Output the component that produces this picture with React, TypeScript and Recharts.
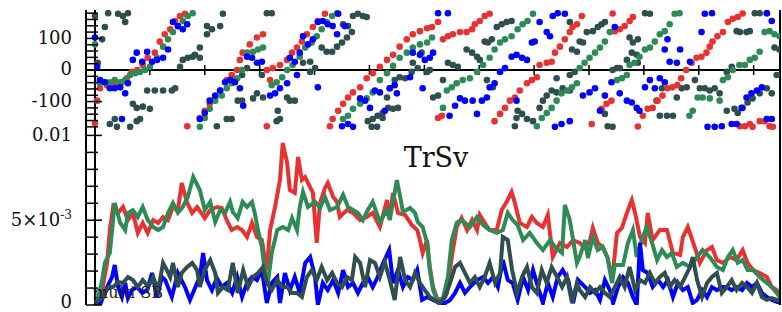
import React from "react";
import {
  ScatterChart,
  Scatter,
  LineChart,
  Line,
  XAxis,
  YAxis,
  ReferenceLine,
} from "recharts";

const RED = "#e83232";
const GREEN = "#2e8b57";
const BLUE = "#0000ff";
const SLATE = "#2f4f4f";
const SERIF = '"DejaVu Serif", serif';

// x ticks (no labels visible in the crop)
const xTicks = [0, 10, 20, 30, 40, 50, 60, 70, 80, 90, 100, 110, 120];
const phaseTicks = [-180, -160, -140, -120, -100, -80, -60, -40, -20, 0, 20, 40, 60, 80, 100, 120, 140, 160, 180];
const phaseLabels: Record<string, string> = { "100": "100", "0": "0", "-100": "-100" };
// amplitude in units of 1e-3
const ampTicks = [0, 1, 2, 3, 4, 5, 6, 7, 8, 9, 10];

type P = [number, number];

// ---- phase scatter (degrees) ----
const redPhase: P[] = [
  [0, -168], [0.4, -97], [0.9, -58], [2.2, -48], [3.6, -48], [4.9, -39], [5.8, -26], [6.7, -6], [7.7, 0], [8.7, 16],
  [9.6, 39], [10.9, 55], [11.8, 90], [12.7, 113], [13.7, 129], [14.6, 155], [15.5, 171], [16.4, 178], [16.8, -178],
  [19.1, -152], [20.0, -129], [20.9, -107], [21.9, -87], [22.8, -65], [24.0, -32], [24.9, -16], [25.9, 0], [26.4, 32],
  [26.9, 55], [28.2, 81], [29.5, 103], [30.6, 113], [31.3, -178], [31.3, 0], [31.9, -32], [32.4, 6], [33.7, 16],
  [35.0, 32], [35.9, 55], [36.8, 71], [37.7, 90], [38.6, 113], [39.7, 136], [40.6, 155], [41.9, 178], [42.8, -178],
  [43.3, -155], [44.3, -129], [45.2, -107], [46.1, -87], [47.0, -71], [48.3, -55], [49.5, -26], [50.6, -10], [51.9, 10],
  [53.2, 32], [54.3, 48], [55.5, 74], [56.8, 97], [57.9, 113], [59.2, 123], [60.5, 132], [61.4, 136], [62.5, 152],
  [63.4, 97], [64.3, 107], [65.2, 113], [66.5, 120], [67.7, 120], [68.7, 129], [69.2, 145], [70.1, 155], [71.0, 171],
  [71.9, 178], [62.5, -152], [63.2, -145], [72.8, -162], [73.8, -139], [74.7, -120], [75.6, -97], [76.5, -87],
  [77.4, -65], [78.7, -42], [79.6, -32], [80.5, -23], [81.0, 16], [82.3, 23], [83.2, 26], [83.8, 55], [84.7, 74],
  [85.6, 97], [86.5, 120], [87.0, 136], [87.8, 145], [88.7, 171], [90.5, -171], [92.3, -123], [93.2, -107], [94.1, -97],
  [94.3, 179], [94.7, 123], [95.6, 129], [96.5, 139], [97.4, 155], [98.0, 168], [98.9, -179], [99.8, -145], [100.7, -123],
  [101.6, -120], [102.5, -97], [103.4, -81], [104.3, -58], [105.2, -55], [106.1, -48], [106.8, -26], [107.7, 0],
  [108.7, 23], [109.6, 39], [110.5, 42], [111.4, 55], [112.0, 74], [112.5, 90], [113.4, 107], [114.4, 120], [115.3, 152],
  [116.2, 162], [117.1, 168], [118.0, 179], [117.5, -178], [118.4, -178], [119.3, -171], [119.8, -180], [121.1, -162],
  [122.0, -162], [122.9, -178], [123.5, -180],
];

const greenPhase: P[] = [
  [0, 81], [0.9, -42], [1.8, -39], [2.7, -39], [3.6, -32], [4.6, -39], [5.5, -32], [6.4, -16], [7.3, -10], [8.2, -6],
  [9.1, 0], [10.0, 10], [11.3, 39], [12.4, 74], [13.3, 97], [14.2, 120], [15.1, 139], [16.0, 155], [16.9, 171], [17.8, 180],
  [19.1, -180], [20.0, -152], [20.9, -123], [21.9, -97], [23.1, -81], [24.0, -58], [24.9, -42], [25.9, -26], [26.8, 0],
  [27.7, 55], [28.8, 58], [29.7, 65], [30.6, 71], [32.2, -48], [33.1, -39], [34.1, -23], [35.0, 0], [36.0, 16], [37.3, 42],
  [38.3, 71], [39.5, 87], [40.4, 107], [41.3, 129], [42.2, 152], [43.2, 171], [44.1, 180], [45.2, -155], [46.1, -145],
  [47.0, -123], [48.3, -107], [49.5, -90], [50.6, -71], [51.9, -32], [53.2, -10], [54.3, 13], [55.5, 39], [56.8, 55],
  [57.9, 71], [59.2, 81], [60.5, 87], [61.4, 103], [63.4, -120], [64.1, -65], [65.0, -55], [65.9, -42], [67.0, -32],
  [68.3, -26], [69.6, -6], [70.7, 16], [71.9, 39], [72.8, 65], [73.8, 87], [74.7, 97], [75.9, 107], [77.0, 129], [77.9, 145],
  [78.8, 155], [79.8, 178], [80.5, -178], [81.4, -152], [82.3, -136], [83.2, -120], [84.1, -97], [85.0, -74], [86.0, -65],
  [86.9, -55], [87.8, -42], [88.3, 6], [89.2, 23], [90.1, 39], [91.1, 55], [92.0, 71], [92.9, 90], [93.8, 120],
  [95.1, -32], [96.0, -26], [96.9, -16], [97.4, 16], [98.3, 23], [99.2, 42], [100.2, 65], [101.1, 71], [102.0, 90],
  [102.9, 113], [103.8, 123], [104.7, 145], [105.6, 178], [106.5, 180], [108.3, -145], [108.9, -129], [109.8, -87],
  [110.7, -87], [112.0, -90], [113.8, -97], [114.4, -32], [115.3, -23], [116.2, 0], [117.4, 16], [118.4, 16], [119.3, 32],
  [120.2, 39], [121.1, 58], [122.0, 120], [122.9, 123], [123.8, 113], [124.7, 107],
];

const bluePhase: P[] = [
  [0, 103], [0.4, 10], [0.9, -32], [1.8, -39], [2.7, -58], [3.6, -58], [4.6, -55], [4.9, -155], [5.5, -74], [6.0, -42],
  [6.9, 32], [7.6, 55], [8.6, 26], [9.5, 58], [10.4, 26], [11.3, 32], [12.4, 39], [13.3, 65], [14.2, 152], [15.1, 139],
  [16.0, 129], [16.8, 145], [19.1, -155], [20.0, -136], [20.9, -97], [21.9, -81], [22.8, -65], [23.7, -39], [24.6, -32],
  [25.5, -39], [26.4, -58], [27.0, -113], [27.7, 42], [28.6, 39], [29.5, 23], [30.4, 26], [31.9, -81], [32.8, -74],
  [33.7, -58], [35.0, -42], [35.5, 39], [36.4, 26], [36.8, -16], [37.3, 55], [37.9, 107], [38.8, 81], [39.7, 97],
  [40.6, 152], [40.6, -55], [41.5, 155], [42.4, 145], [43.3, 139], [44.1, 113], [44.3, 178], [45.5, 139], [45.0, -178],
  [46.1, -171], [47.0, -180], [48.3, -90], [49.2, -97], [50.1, -120], [51.0, -65], [51.9, -71], [52.8, -129], [53.7, -58],
  [54.6, -48], [55.0, -74], [57.4, -23], [57.9, 55], [59.2, 48], [59.7, -58], [60.1, 32], [61.0, 39], [61.6, 55],
  [62.5, 180], [64.3, 180], [64.6, -145], [65.6, -113], [66.5, -90], [67.4, -97], [68.8, -97], [69.6, -139], [70.5, -97],
  [71.4, -87], [71.9, -55], [72.8, -42], [73.8, -6], [74.7, 6], [75.9, 42], [76.8, 48], [76.8, -97], [77.8, 39], [78.7, 32],
  [79.6, 87], [80.1, 90], [81.0, 152], [82.3, 120], [82.9, 107], [83.4, 171], [84.3, 180], [85.6, 178], [83.8, -180],
  [85.0, -171], [86.5, -162], [88.9, -81], [90.1, -71], [91.1, -58], [92.0, -129], [92.9, -81], [94.1, -39], [94.7, 136],
  [95.6, -74], [96.9, -97], [97.8, -103], [98.7, -120], [99.2, -129], [100.2, -55], [101.1, -32], [102.0, -58],
  [102.9, -26], [103.8, -39], [103.8, 65], [104.3, 97], [104.7, 26], [106.0, 23], [106.6, 65], [108.4, 26], [110.5, 120],
  [111.1, 178], [112.4, 180], [111.6, -180], [112.9, -180], [114.2, -178], [116.0, -171], [116.9, -171], [117.8, -120],
  [118.7, -87], [119.6, -74], [120.6, -65], [121.5, -55], [122.4, -155], [123.3, -155], [122.4, 180], [123.3, 155],
];

const slatePhase: P[] = [
  [0, 171], [0.5, 23], [1.3, 97], [1.8, 136], [2.4, 180], [4.2, 178], [5.1, 171], [5.5, 152], [6.0, 180], [0.9, -39],
  [2.7, -171], [3.6, -155], [4.0, -180], [6.4, -180], [6.9, -107], [7.6, -120], [7.6, -162], [8.2, -155], [8.7, -116],
  [9.5, -65], [10.0, -123], [10.9, -65], [12.4, -65], [14.0, -65], [14.6, -58], [15.5, 10], [16.0, 32], [16.9, 39],
  [17.8, 42], [18.2, 48], [19.1, 71], [19.1, 39], [20.4, 113], [20.4, 139], [21.3, 129], [22.8, 139], [23.3, 178],
  [22.2, -178], [24.0, -155], [24.9, -155], [25.5, -32], [26.0, -97], [26.8, -97], [26.8, -16], [27.7, 6], [28.8, -90],
  [29.5, -74], [30.4, -16], [30.6, -87], [31.3, 180], [32.2, 180], [33.1, -162], [33.3, -129], [33.7, -155], [35.0, -87],
  [35.5, -97], [36.4, -97], [37.9, 23], [39.2, 26], [39.2, -6], [40.1, 6], [41.3, 71], [42.2, 58], [43.2, 58], [44.1, 74],
  [45.0, 87], [45.2, 145], [45.9, 103], [46.1, 139], [46.8, 120], [47.0, 171], [47.9, 178], [48.8, 171], [49.5, 168],
  [49.7, -162], [50.4, -180], [50.6, -155], [51.4, -180], [51.5, -145], [52.4, -136], [52.4, -152], [53.2, -87],
  [53.4, -120], [53.7, -58], [54.3, -123], [54.6, -32], [55.2, -120], [55.5, -23], [56.5, -26], [57.7, -6], [57.9, 23],
  [58.8, 6], [59.5, 55], [60.5, -6], [61.0, 0], [61.6, -87], [62.5, -81], [63.4, -32], [64.3, 23], [65.2, 16], [66.1, 10],
  [67.7, 65], [68.7, 55], [69.6, 42], [70.1, 32], [71.0, 90], [71.6, 87], [71.4, -32], [72.3, 97], [72.5, -55], [73.2, 136],
  [74.1, 145], [75.0, 152], [75.9, 155], [76.5, -178], [76.8, -152], [77.0, -129], [77.8, -139], [78.7, -155],
  [79.8, -162], [81.0, -120], [81.6, -97], [82.3, -81], [83.2, -65], [84.1, -71], [84.1, -26], [85.2, -58], [86.5, -65],
  [86.5, -16], [87.4, -6], [86.9, 65], [87.8, 58], [86.5, 152], [88.3, 90], [88.9, 87], [89.6, 120], [90.7, 123],
  [91.6, 136], [92.3, 145], [92.9, 152], [92.9, -139], [93.4, -178], [94.3, -180], [94.3, 0], [95.1, 6], [95.6, 6],
  [96.9, 32], [97.4, 103], [97.8, 55], [98.0, 87], [98.7, 48], [98.9, 97], [98.9, 23], [100.2, 180], [101.1, 178],
  [102.3, -97], [102.9, -145], [103.3, -58], [104.2, -145], [105.3, -145], [106.0, -87], [106.9, -58], [107.8, -55],
  [109.3, -32], [110.2, -58], [111.1, -58], [112.0, -65], [112.9, -58], [113.8, -74], [115.1, -6], [115.1, -129],
  [116.0, 10], [116.5, -123], [116.9, 123], [117.1, -136], [117.5, 120], [118.0, -120], [118.7, 120], [118.9, -103],
  [119.3, 123], [119.8, -90], [120.2, 180], [121.1, 180], [121.1, -74], [122.4, 180], [122.4, -58], [123.3, -74],
  [124.2, -16], [123.8, 71], [124.7, 65],
];

// ---- TrSv amplitude lines (x 1e-3) ----
const redLine: P[] = [
  [0.4, 0.18], [1.3, 0.88], [2.2, 2.48], [2.7, 4.42], [3.3, 5.78], [4.2, 5.43], [5.1, 5.78], [6.0, 5.01], [6.9, 5.43], [7.8, 4.25],
  [8.7, 4.84], [9.6, 4.25], [10.6, 5.01], [11.5, 4.84], [12.4, 5.19], [13.3, 5.01], [14.2, 5.78], [15.1, 5.6], [15.8, 7.2], [16.8, 6.02],
  [17.7, 5.43], [18.6, 5.78], [20.0, 5.13], [21.0, 5.6], [22.2, 5.78], [23.1, 5.72], [24.0, 5.01], [24.9, 4.42], [25.9, 4.6], [26.8, 4.42],
  [27.7, 4.01], [28.6, 4.84], [29.5, 4.01], [30.4, 3.83], [31.3, 2.06], [31.9, 4.42], [32.8, 5.78], [33.7, 7.37], [34.2, 9.56], [35.0, 8.38],
  [35.5, 6.78], [36.4, 6.61], [37.0, 8.73], [37.7, 7.37], [38.3, 7.55], [38.8, 7.2], [39.7, 6.61], [40.4, 3.66], [41.0, 6.02], [41.9, 6.9],
  [42.4, 7.2], [43.4, 6.37], [44.1, 6.08], [44.6, 5.19], [45.9, 5.6], [47.0, 5.43], [48.3, 5.01], [49.5, 5.19], [50.6, 5.43], [51.9, 4.6],
  [53.2, 6.19], [53.7, 5.19], [54.3, 6.61], [55.2, 5.43], [56.5, 5.31], [57.7, 4.72], [58.7, 4.42], [59.2, 3.83], [59.7, 3.07], [60.5, 3.83],
  [61.0, 2.24], [61.6, 1.06], [62.3, 0.41], [63.2, 0.3], [64.1, 0.71], [65.0, 2.83], [65.9, 4.6], [66.8, 5.13], [67.8, 4.42], [68.7, 5.01],
  [69.6, 4.42], [70.1, 5.31], [71.0, 4.84], [71.9, 4.42], [73.2, 4.42], [74.1, 5.6], [75.0, 6.08], [75.9, 6.67], [76.5, 6.02], [77.4, 4.84],
  [78.7, 4.6], [79.6, 5.19], [80.5, 4.84], [81.6, 4.6], [82.5, 5.31], [83.4, 2.83], [84.7, 3.66], [86.0, 3.42], [87.1, 3.83], [88.3, 3.66],
  [89.3, 3.36], [90.2, 3.83], [90.7, 4.54], [91.6, 3.66], [92.5, 3.42], [93.4, 2.77], [94.2, 1.47], [95.1, 4.25], [96.0, 4.54], [96.9, 5.43],
  [97.8, 6.19], [98.4, 5.43], [99.3, 4.01], [100.2, 3.66], [100.7, 5.43], [101.6, 3.83], [102.9, 4.42], [104.2, 4.42], [105.3, 3.07], [106.6, 2.95],
  [107.1, 4.01], [108.0, 4.6], [109.0, 3.66], [110.2, 2.48], [111.5, 3.24], [112.4, 3.42], [113.3, 2.65], [114.4, 2.48], [115.7, 2.83], [116.9, 2.65],
  [118.0, 3.24], [118.9, 2.48], [119.9, 2.06], [121.1, 1.89], [122.4, 1.65], [123.3, 1.06], [124.2, 0.88], [125.1, 0.47],
];

const greenLine: P[] = [
  [0.4, 0.18], [1.3, 1.47], [1.8, 2.48], [2.7, 3.07], [3.6, 6.02], [4.6, 4.84], [5.5, 4.42], [6.0, 5.43], [6.9, 5.6], [7.8, 5.19],
  [8.7, 5.78], [9.6, 5.01], [10.6, 4.6], [11.5, 4.42], [12.4, 4.6], [13.3, 5.43], [14.2, 6.02], [15.1, 5.43], [16.0, 5.78], [16.9, 6.37],
  [17.9, 7.55], [19.1, 6.78], [20.0, 5.6], [21.0, 6.08], [21.9, 4.9], [22.8, 5.6], [23.7, 5.43], [24.6, 6.08], [25.1, 5.49], [26.0, 5.13],
  [26.9, 6.08], [27.7, 5.78], [28.6, 6.08], [29.1, 5.43], [29.7, 4.42], [30.4, 3.42], [30.9, 2.06], [31.5, 1.3], [32.2, 3.07], [33.2, 4.42],
  [34.2, 4.6], [35.2, 4.42], [35.9, 5.13], [36.8, 4.42], [37.3, 5.78], [37.9, 6.67], [38.8, 5.78], [40.1, 6.08], [41.0, 5.72], [41.9, 6.37],
  [42.8, 5.6], [44.1, 5.78], [45.2, 6.49], [46.1, 5.78], [47.0, 5.6], [47.9, 5.43], [48.8, 5.01], [49.7, 5.6], [50.6, 6.08], [51.9, 4.9],
  [53.2, 5.6], [53.7, 5.01], [55.0, 7.37], [55.6, 6.37], [56.1, 5.49], [57.4, 5.72], [58.3, 5.43], [58.8, 4.9], [59.7, 4.6], [60.5, 3.66],
  [61.0, 2.06], [61.6, 0.88], [62.5, 0.18], [63.4, 0.41], [64.3, 1.65], [65.0, 3.83], [65.9, 4.84], [66.8, 5.01], [68.3, 4.6], [69.6, 5.19],
  [70.7, 4.72], [71.9, 4.42], [73.2, 4.25], [74.3, 4.42], [75.2, 5.43], [76.1, 5.01], [77.0, 4.72], [78.0, 3.83], [79.2, 4.25], [80.5, 3.66],
  [81.6, 3.24], [82.9, 3.83], [83.8, 3.42], [85.1, 3.07], [85.6, 5.9], [86.5, 5.01], [87.8, 2.48], [88.3, 2.83], [89.3, 3.83], [89.8, 2.77],
  [90.7, 4.01], [91.6, 3.24], [92.5, 3.42], [93.4, 2.77], [94.2, 1.3], [94.7, 2.36], [96.2, 2.36], [97.1, 3.66], [98.0, 4.42], [98.7, 2.83],
  [99.6, 3.83], [100.5, 4.6], [101.5, 3.66], [102.4, 2.65], [103.3, 3.24], [104.2, 2.83], [105.1, 3.07], [106.0, 2.24], [107.1, 2.48], [108.4, 2.24],
  [109.7, 2.83], [110.7, 3.24], [112.0, 2.83], [113.3, 2.24], [114.4, 2.06], [115.3, 2.83], [116.2, 3.24], [117.1, 2.48], [118.0, 2.65], [118.9, 2.06],
  [119.9, 2.06], [121.1, 1.65], [122.4, 1.3], [123.3, 1.06], [124.2, 0.71], [125.1, 0.3],
];

const blueLine: P[] = [
  [0, 0.12], [0.9, 0], [2.2, 1.06], [3.1, 1.65], [3.6, 2.36], [4.2, 1.06], [4.9, 0.47], [5.5, 1.3], [6.0, 0.41], [6.7, 0.88],
  [7.7, 1.06], [8.6, 0.71], [9.5, 0.88], [10.4, 1.89], [11.3, 0.47], [12.2, 1.65], [12.8, 1.47], [14.0, 0.47], [15.1, 1.89], [16.4, 1.06],
  [17.3, 0.3], [18.6, 1.3], [19.1, 1.65], [19.7, 3.07], [20.4, 1.47], [21.3, 0.88], [22.2, 1.59], [23.1, 1.06], [24.0, 1.3], [25.0, 0.71],
  [25.9, 1.65], [26.8, 0.47], [27.7, 1.3], [28.6, 1.65], [29.5, 1.47], [30.4, 2.06], [31.3, 0.12], [32.2, 1.3], [33.2, 1.65], [33.7, 0.12],
  [34.6, 1.89], [35.5, 0.88], [36.4, 1.65], [37.3, 0.71], [38.3, 2.48], [39.2, 2.83], [40.1, 1.65], [40.6, 0], [41.5, 1.3], [42.4, 0.88],
  [43.4, 1.47], [44.3, 0.71], [45.2, 2.06], [46.1, 1.06], [47.0, 1.3], [47.9, 0.71], [48.8, 1.3], [49.7, 1.65], [50.6, 1.06], [51.5, 1.65],
  [52.5, 2.48], [53.6, 3.24], [54.3, 1.3], [55.2, 2.06], [56.1, 1.06], [57.0, 1.65], [57.9, 1.47], [58.7, 2.06], [59.6, 0.3], [60.5, 0.47],
  [61.6, 0.3], [62.8, 0.12], [63.8, 0.12], [64.7, 0.3], [65.6, 0.71], [66.5, 1.3], [67.4, 0.71], [68.3, 1.06], [69.6, 1.47], [70.7, 1.65],
  [71.6, 1.3], [72.5, 1.65], [73.4, 1.06], [74.3, 2.65], [75.2, 1.47], [76.1, 1.3], [77.0, 0.3], [78.0, 1.65], [78.9, 0.88], [79.8, 2.06],
  [80.7, 1.06], [81.6, 0.12], [82.5, 1.3], [83.4, 0.47], [84.3, 1.65], [85.2, 2.06], [86.2, 1.47], [87.1, 0.12], [88.0, 1.47], [89.3, 1.06],
  [90.2, 0.71], [91.1, 0.88], [92.0, 0.3], [92.9, 1.47], [93.8, 0.88], [94.4, 0.12], [95.3, 1.06], [96.2, 1.65], [97.1, 1.3], [98.0, 0.47],
  [98.7, 0], [99.3, 3.66], [99.8, 2.06], [100.7, 1.89], [101.6, 1.06], [102.6, 1.47], [103.5, 1.06], [104.4, 1.47], [105.3, 0.47], [106.2, 1.3],
  [107.1, 0.88], [108.0, 1.06], [108.9, 0.12], [109.7, 0.3], [110.6, 0.88], [111.5, 0.47], [112.4, 1.06], [113.3, 0.88], [114.2, 1.06], [115.1, 1.06],
  [116.0, 0.88], [116.9, 1.06], [117.9, 0.88], [118.8, 1.3], [119.7, 1.06], [120.6, 1.3], [121.5, 0.71], [122.4, 0.47], [123.3, 0.3], [124.2, 0.18],
  [125.1, 0.12],
];

const slateLine: P[] = [
  [0, 0.12], [1.5, 0.47], [2.4, 1.06], [3.3, 1.06], [4.2, 1.36], [5.1, 1.3], [6.0, 1.65], [6.9, 1.47], [7.8, 1.06], [8.7, 1.47],
  [9.7, 1.06], [10.6, 1.65], [11.5, 0.88], [12.4, 2.48], [13.1, 2.06], [13.7, 1.65], [14.2, 2.48], [15.1, 1.06], [15.8, 1.89], [16.8, 2.24],
  [17.7, 2.48], [18.6, 2.06], [19.1, 1.06], [20.0, 2.06], [21.0, 2.65], [21.9, 1.89], [22.4, 0.71], [23.3, 1.06], [24.2, 0.88], [25.1, 2.48],
  [26.0, 0.71], [27.0, 2.06], [27.9, 1.06], [28.8, 1.65], [29.7, 1.89], [30.6, 2.24], [31.3, 1.3], [32.2, 0.88], [33.2, 1.47], [34.1, 1.06],
  [35.0, 1.06], [35.9, 0.71], [36.8, 0.71], [37.7, 0.47], [38.6, 1.65], [39.5, 2.06], [40.4, 1.47], [41.3, 2.24], [42.3, 1.47], [43.2, 1.89],
  [44.1, 1.3], [45.0, 1.06], [45.9, 1.65], [46.8, 1.47], [47.4, 2.83], [48.3, 2.48], [49.2, 1.06], [50.1, 2.65], [51.0, 2.48], [51.9, 1.65],
  [52.8, 2.54], [53.7, 1.47], [54.6, 0.3], [55.6, 2.83], [56.5, 1.47], [57.4, 1.06], [58.3, 1.89], [59.2, 1.3], [60.1, 0.88], [61.0, 0.47],
  [61.9, 0.3], [62.8, 0.12], [63.8, 0.47], [64.7, 1.3], [65.6, 2.24], [66.5, 2.48], [67.4, 1.89], [68.3, 1.3], [69.2, 1.65], [70.1, 1.06],
  [71.0, 1.65], [71.9, 2.48], [72.9, 1.3], [73.8, 1.89], [74.3, 4.01], [75.2, 3.83], [76.0, 2.06], [76.9, 0.71], [77.8, 1.65], [78.7, 2.24],
  [79.6, 1.06], [80.5, 0.71], [81.4, 2.06], [82.3, 1.3], [83.2, 2.24], [84.2, 1.65], [85.1, 1.06], [86.0, 1.65], [86.9, 0.12], [87.8, 1.3],
  [88.3, 0.88], [89.3, 0.47], [90.2, 1.06], [91.1, 0.71], [92.0, 1.06], [92.9, 0.71], [93.8, 0.47], [94.7, 1.06], [95.6, 1.65], [96.5, 1.06],
  [97.4, 2.24], [98.4, 0.88], [99.3, 1.47], [100.2, 1.3], [101.1, 1.89], [102.0, 1.3], [102.9, 1.65], [103.8, 1.89], [104.7, 1.06], [105.6, 1.47],
  [106.6, 1.06], [107.5, 1.65], [108.4, 2.24], [108.9, 2.83], [109.7, 1.47], [110.6, 0.47], [111.5, 1.3], [112.4, 1.65], [113.3, 1.89], [114.2, 0.71],
  [115.1, 1.06], [116.0, 1.47], [116.9, 0.88], [117.9, 1.3], [118.8, 1.06], [119.7, 0.71], [120.6, 1.3], [121.5, 0.47], [122.4, 0.3], [123.3, 0.41],
  [124.2, 0.3], [125.1, 0.18],
];

const toPts = (arr: P[]) => arr.map(([x, y]) => ({ x, y }));

const X_DOMAIN: [number, number] = [-1.64, 124.8];

const dot = (color: string) => (p: any) => (
  <circle cx={p.cx} cy={p.cy} r={3.3} fill={color} />
);

// left frame ticks: line drawn inward from the frame, label outside
const leftTick = (labels: Record<string, React.ReactNode>, bottomValue?: number) => (props: any) => {
  const { x, y, payload } = props;
  const lab = labels[String(payload.value)];
  const len = lab !== undefined ? 16 : 12;
  const lift = payload.value === bottomValue ? -2 : 0;
  return (
    <g>
      <line x1={x} x2={x + len} y1={y} y2={y} stroke="#000" strokeWidth={1.5} />
      {lab !== undefined && (
        <text x={x - 14} y={y + lift} dy="0.3em" textAnchor="end" fontFamily={SERIF} fontSize={18} fill="#111">
          {lab}
        </text>
      )}
    </g>
  );
};

const rightTick = (majors: number[]) => (props: any) => {
  const { x, y, payload } = props;
  const len = majors.includes(payload.value) ? 7 : 4;
  return <line x1={x - len} x2={x} y1={y} y2={y} stroke="#000" strokeWidth={1.5} />;
};

const ampLabels: Record<string, React.ReactNode> = {
  "0": "0",
  "5": (
    <>
      5×10<tspan dy={-7} fontSize={12}>-3</tspan>
    </>
  ),
  "10": "0.01",
};

const axisLine = { stroke: "#000", strokeWidth: 2 };
const tickLine = { stroke: "#000", strokeWidth: 1.5 };

export default function App() {
  return (
    <div
      style={{
        position: "absolute",
        left: 0,
        top: 0,
        width: 782,
        height: 312,
        overflow: "hidden",
        background: "#fff",
      }}
    >
      {/* phase panel */}
      <div style={{ position: "absolute", left: 0, top: 0 }}>
        <ScatterChart width={782} height={130} margin={{ top: 10, right: 0, bottom: 0, left: 0 }}>
          <XAxis
            type="number"
            dataKey="x"
            domain={X_DOMAIN}
            allowDataOverflow
            ticks={xTicks}
            interval={0}
            height={0}
            mirror
            tick={false}
            tickSize={5}
            axisLine={axisLine}
            tickLine={tickLine}
          />
          <XAxis
            xAxisId="top"
            orientation="top"
            type="number"
            domain={X_DOMAIN}
            allowDataOverflow
            ticks={xTicks}
            interval={0}
            height={0}
            mirror
            tick={false}
            tickSize={5}
            axisLine={axisLine}
            tickLine={tickLine}
          />
          <YAxis
            type="number"
            dataKey="y"
            domain={[-190, 190]}
            allowDataOverflow
            ticks={phaseTicks}
            interval={0}
            width={86}
            tickSize={0}
            tickMargin={0}
            tickLine={false}
            axisLine={axisLine}
            tick={leftTick(phaseLabels)}
          />
          <YAxis
            yAxisId="r"
            orientation="right"
            type="number"
            domain={[-190, 190]}
            ticks={phaseTicks}
            interval={0}
            width={2}
            tickSize={0}
            tickMargin={0}
            tickLine={false}
            axisLine={axisLine}
            tick={rightTick([-100, 0, 100])}
          />
          <ReferenceLine y={0} stroke="#000" strokeWidth={2} />
          <ReferenceLine x={0} stroke="#000" strokeWidth={2} />
          {xTicks.map((t) => (
            <ReferenceLine
              key={t}
              segment={[
                { x: t, y: -16 },
                { x: t, y: 16 },
              ]}
              stroke="#000"
              strokeWidth={1.5}
            />
          ))}
          <Scatter data={toPts(slatePhase)} shape={dot(SLATE)} isAnimationActive={false} />
          <Scatter data={toPts(redPhase)} shape={dot(RED)} isAnimationActive={false} />
          <Scatter data={toPts(greenPhase)} shape={dot(GREEN)} isAnimationActive={false} />
          <Scatter data={toPts(bluePhase)} shape={dot(BLUE)} isAnimationActive={false} />
        </ScatterChart>
      </div>

      {/* TrSv amplitude panel */}
      <div style={{ position: "absolute", left: 0, top: 0 }}>
        <LineChart width={782} height={320} margin={{ top: 130, right: 0, bottom: 15, left: 0 }}>
          <XAxis
            type="number"
            dataKey="x"
            domain={X_DOMAIN}
            allowDataOverflow
            ticks={xTicks}
            interval={0}
            height={0}
            tick={false}
            tickSize={8}
            axisLine={axisLine}
            tickLine={tickLine}
          />
          <XAxis
            xAxisId="top"
            orientation="top"
            type="number"
            domain={X_DOMAIN}
            allowDataOverflow
            ticks={xTicks}
            interval={0}
            height={0}
            mirror
            tick={false}
            tickSize={8}
            axisLine={axisLine}
            tickLine={tickLine}
          />
          <YAxis
            type="number"
            domain={[0, 10.32]}
            allowDataOverflow
            ticks={ampTicks}
            interval={0}
            width={86}
            tickSize={0}
            tickMargin={0}
            tickLine={false}
            axisLine={axisLine}
            tick={leftTick(ampLabels, 0)}
          />
          <YAxis
            yAxisId="r"
            orientation="right"
            type="number"
            domain={[0, 10.32]}
            ticks={ampTicks}
            interval={0}
            width={2}
            tickSize={0}
            tickMargin={0}
            tickLine={false}
            axisLine={axisLine}
            tick={rightTick([0, 5, 10])}
          />
          <ReferenceLine x={0} stroke="#000" strokeWidth={2} />
          <Line data={toPts(redLine)} dataKey="y" stroke={RED} strokeWidth={4} dot={false} isAnimationActive={false} />
          <Line data={toPts(greenLine)} dataKey="y" stroke={GREEN} strokeWidth={4} dot={false} isAnimationActive={false} />
          <Line data={toPts(blueLine)} dataKey="y" stroke={BLUE} strokeWidth={4} dot={false} isAnimationActive={false} />
          <Line data={toPts(slateLine)} dataKey="y" stroke={SLATE} strokeWidth={4} dot={false} isAnimationActive={false} />
        </LineChart>
      </div>

      {/* panel annotations */}
      <svg width={782} height={312} style={{ position: "absolute", left: 0, top: 0, pointerEvents: "none" }}>
        <text x={93} y={298} fontFamily={SERIF} fontSize={16} fill="#222">
          multi SB
        </text>
        <text x={436} y={167} textAnchor="middle" fontFamily={SERIF} fontSize={27} fill="#111">
          TrSv
        </text>
      </svg>
    </div>
  );
}
